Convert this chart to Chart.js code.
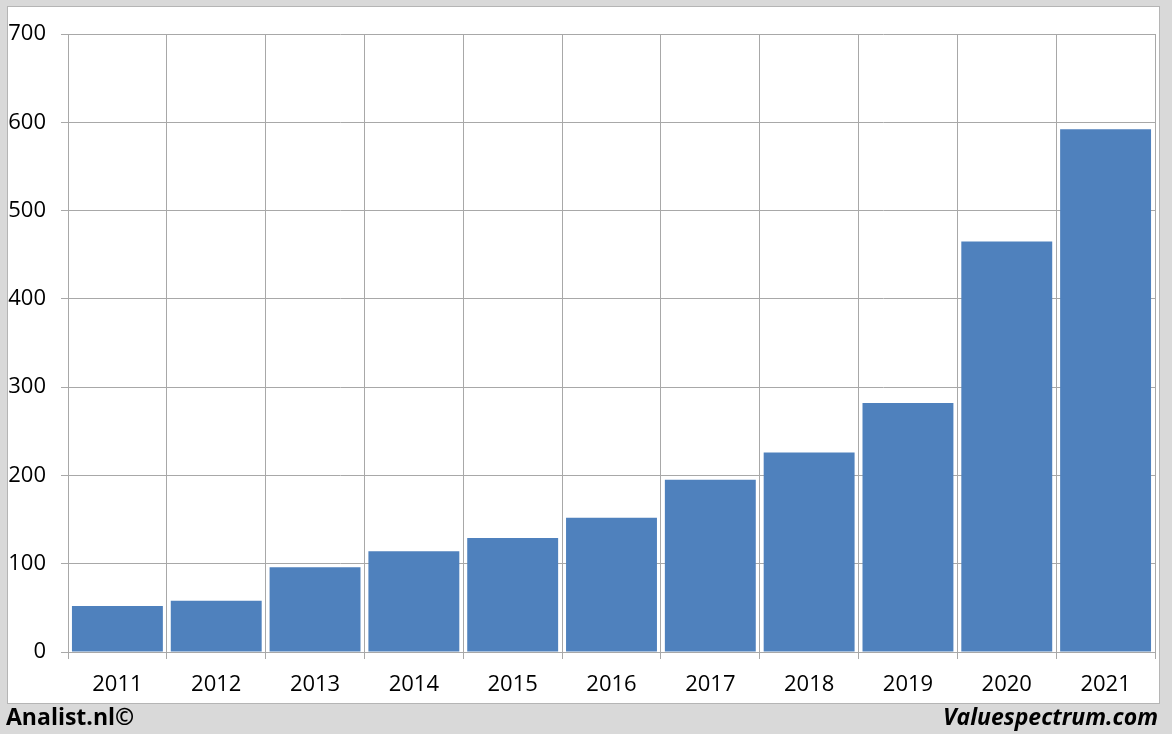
<!DOCTYPE html>
<html>
<head>
<meta charset="utf-8">
<script src="https://cdn.jsdelivr.net/npm/chart.js@4/dist/chart.umd.min.js"></script>
<style>
  html, body { margin: 0; padding: 0; }
  body { width: 1172px; height: 734px; background: #d9d9d9; position: relative; overflow: hidden; font-family: 'Open Sans', sans-serif; }
  #panel { position: absolute; left: 7px; top: 6px; width: 1151px; height: 696px; background: #fff; border: 1px solid #b5b5b5; }
  #chartbox { position: absolute; left: 0; top: 0; width: 1172px; height: 734px; }
  .foot { position: absolute; top: 700px; font-size: 23px; font-weight: bold; color: #000; }
  #left { left: 6px; }
  #right { right: 14px; font-style: italic; }
</style>
</head>
<body>
<div id="panel"></div>
<div id="chartbox"><canvas id="myChart" width="1172" height="734"></canvas></div>
<div class="foot" id="left">Analist.nl©</div>
<div class="foot" id="right">Valuespectrum.com</div>
<script>
const years = ['2011', '2012', '2013', '2014', '2015', '2016', '2017', '2018', '2019', '2020', '2021'];
const values = [52, 58, 96, 114, 129, 152, 195, 226, 282, 465, 592];
const yTicks = [0, 100, 200, 300, 400, 500, 600, 700];

const gridColor = '#a8a8a8';
const tickFont = { family: "'Open Sans', sans-serif", size: 22 };

new Chart(document.getElementById('myChart'), {
  type: 'bar',
  data: {
    labels: years,
    datasets: [
      {
        data: values,
        backgroundColor: '#4f81bd',
        borderWidth: 0,
        categoryPercentage: 1,
        barPercentage: 0.92,
      },
    ],
  },
  options: {
    responsive: false,
    animation: false,
    layout: { padding: { top: 34, right: 17, bottom: 31, left: 0 } },
    plugins: { legend: { display: false }, tooltip: { enabled: false } },
    scales: {
      x: {
        grid: { color: gridColor, lineWidth: 1, tickLength: 7, offset: true },
        border: { color: gridColor, width: 1 },
        ticks: { color: '#000', font: tickFont, padding: 13, maxRotation: 0 },
        afterFit: (s) => { s.height = 51; },
      },
      y: {
        min: 0,
        max: 700,
        afterBuildTicks: (s) => { s.ticks = yTicks.map((v) => ({ value: v })); },
        grid: { color: gridColor, lineWidth: 1, tickLength: 7 },
        border: { color: gridColor, width: 1 },
        ticks: { color: '#000', font: tickFont, padding: 15 },
        afterFit: (s) => { s.width = 68; },
      },
    },
  },
});
</script>
</body>
</html>
